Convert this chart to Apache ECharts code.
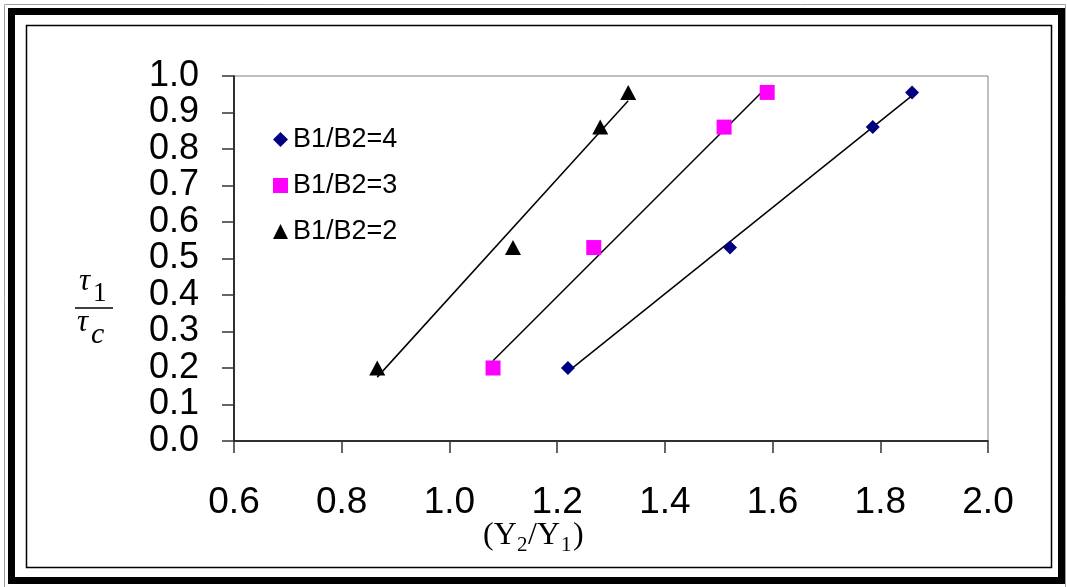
<!DOCTYPE html>
<html>
<head>
<meta charset="utf-8">
<script src="https://cdn.jsdelivr.net/npm/echarts@6/dist/echarts.min.js"></script>
<style>
html,body{margin:0;padding:0;background:#fff;}
#chart{width:1067px;height:587px;}
</style>
</head>
<body>
<div id="chart"></div>
<script>
// ---- data ----
var seriesNames = ['B1/B2=4', 'B1/B2=3', 'B1/B2=2'];
var ratioY = [0.20, 0.53, 0.86, 0.955];           // tau1/tauc
var xB4 = [1.220, 1.521, 1.786, 1.859];
var xB3 = [1.081, 1.268, 1.510, 1.590];
var xB2 = [0.866, 1.118, 1.280, 1.332];
// trendline end points
var trendB4 = [[1.220, 0.190], [1.859, 0.946]];
var trendB3 = [[1.081, 0.220], [1.591, 0.972]];
var trendB2 = [[0.866, 0.175], [1.332, 0.932]];
var xTicks = [0.6, 0.8, 1.0, 1.2, 1.4, 1.6, 1.8, 2.0];
var yTicks = [0.0, 0.1, 0.2, 0.3, 0.4, 0.5, 0.6, 0.7, 0.8, 0.9, 1.0];

function pairs(xs, ys) { return xs.map(function (x, i) { return [x, ys[i]]; }); }

var sans = '"Liberation Sans", Arial, sans-serif';
var serif = '"Liberation Serif", "Times New Roman", serif';

var chart = echarts.init(document.getElementById('chart'), null, {renderer: 'canvas'});

function trend(name, d) {
  return {
    name: name, type: 'line', data: d, showSymbol: false, symbol: 'none',
    lineStyle: {color: '#000', width: 1.5}, silent: true, z: 1
  };
}

var option = {
  animation: false,
  backgroundColor: '#fff',
  grid: {left: 234, top: 76, right: 79, bottom: 146, show: true, borderColor: '#808080', borderWidth: 1},
  legend: {
    orient: 'vertical', left: 268, top: 121,
    data: seriesNames,
    itemWidth: 15, itemHeight: 15, itemGap: 19, itemTextGap: 10,
    textStyle: {fontFamily: sans, fontSize: 27, color: '#000', lineHeight: 25}
  },
  xAxis: {
    type: 'value', min: xTicks[0], max: xTicks[xTicks.length - 1], interval: 0.2,
    axisLine: {show: true, lineStyle: {color: '#000', width: 1.5}},
    axisTick: {show: true, inside: false, length: 12, lineStyle: {color: '#333', width: 1.5}},
    splitLine: {show: false},
    axisLabel: {margin: 43, fontFamily: sans, fontSize: 37, color: '#000',
      formatter: function (v) { return v.toFixed(1); }}
  },
  yAxis: {
    type: 'value', min: yTicks[0], max: yTicks[yTicks.length - 1], interval: 0.1,
    axisLine: {show: true, lineStyle: {color: '#000', width: 1.5}},
    axisTick: {show: true, inside: false, length: 12, lineStyle: {color: '#333', width: 1.5}},
    splitLine: {show: false},
    axisLabel: {margin: 35, fontFamily: sans, fontSize: 36, color: '#000',
      formatter: function (v) { return v.toFixed(1); }}
  },
  series: [
    trend('t4', trendB4), trend('t3', trendB3), trend('t2', trendB2),
    {name: seriesNames[0], type: 'scatter', symbol: 'diamond', symbolSize: 14,
      itemStyle: {color: '#000080', opacity: 1}, data: pairs(xB4, ratioY), z: 3},
    {name: seriesNames[1], type: 'scatter', symbol: 'rect', symbolSize: 15,
      itemStyle: {color: '#FF00FF', opacity: 1}, data: pairs(xB3, ratioY), z: 3},
    {name: seriesNames[2], type: 'scatter', symbol: 'triangle', symbolSize: [16, 15],
      itemStyle: {color: '#000000', opacity: 1}, data: pairs(xB2, ratioY), z: 3}
  ],
  graphic: [
    // frames
    {type: 'rect', shape: {x: 4.5, y: 4.5, width: 1061, height: 590}, style: {fill: null, stroke: '#a0a0a0', lineWidth: 1}, silent: true},
    {type: 'rect', shape: {x: 11.5, y: 11.5, width: 1050, height: 569}, style: {fill: null, stroke: '#000', lineWidth: 7}, silent: true},
    {type: 'rect', shape: {x: 26.5, y: 25.5, width: 1025, height: 542}, style: {fill: null, stroke: '#000', lineWidth: 1.5}, silent: true},
    // y axis title  tau_1 / tau_c
    {type: 'text', left: 79, top: 266, style: {text: 'τ', font: 'italic 31px ' + serif, fill: '#000'}, silent: true},
    {type: 'text', left: 93, top: 280, style: {text: '1', font: '27px ' + serif, fill: '#000'}, silent: true},
    {type: 'line', shape: {x1: 75, y1: 308, x2: 113, y2: 308}, style: {stroke: '#000', lineWidth: 1.5}, silent: true},
    {type: 'text', left: 77, top: 307, style: {text: 'τ', font: 'italic 31px ' + serif, fill: '#000'}, silent: true},
    {type: 'text', left: 91, top: 320, style: {text: 'c', font: 'italic 30px ' + serif, fill: '#000'}, silent: true},
    // x axis title (Y2/Y1)
    {type: 'text', left: 483, top: 520, style: {text: '(Y', font: '32px ' + serif, fill: '#000'}, silent: true},
    {type: 'text', left: 517, top: 535, style: {text: '2', font: '21px ' + serif, fill: '#000'}, silent: true},
    {type: 'text', left: 528, top: 520, style: {text: '/Y', font: '32px ' + serif, fill: '#000'}, silent: true},
    {type: 'text', left: 561, top: 535, style: {text: '1', font: '21px ' + serif, fill: '#000'}, silent: true},
    {type: 'text', left: 573, top: 520, style: {text: ')', font: '32px ' + serif, fill: '#000'}, silent: true}
  ]
};
chart.setOption(option);
</script>
</body>
</html>
